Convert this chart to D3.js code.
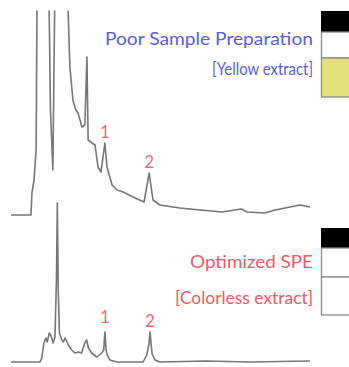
<!DOCTYPE html>
<html><head><meta charset="utf-8">
<script src="https://cdn.jsdelivr.net/npm/d3@7"></script>
<style>html,body{margin:0;padding:0;background:#fff;}svg{display:block;}</style>
</head><body><svg id="c" width="349" height="367"></svg>
<script>
// Retention time (arbitrary units) and detector signal for each chromatogram
const poorTime = [0,0.67,0.70,0.77,0.84,0.88,1.07,1.26,1.32,1.40,1.48,1.71,1.91,1.94,1.97,2.07,2.17,2.24,2.31,2.37,2.47,2.54,2.58,2.71,2.81,2.91,3.01,3.14,3.21,3.38,3.55,3.75,4.15,4.45,4.62,4.75,4.98,5.65,6.32,7.06,7.49,7.70,7.90,8.49,8.83,9.33,9.67,10];
const poorSignal = [0,0,22,35,65,260,400,240,105,45,260,450,204,175,148,115,105,102,95,88,90,158,75,72,70,48,43,72,48,30,25,23,17,13,42,15,10,7,5,3,5,6,3,2,5,8,10,8];
const speTime = [0,0.97,1.03,1.10,1.17,1.21,1.28,1.34,1.41,1.47,1.52,1.55,1.58,1.62,1.70,1.75,1.81,1.92,2.03,2.14,2.25,2.36,2.47,2.53,2.59,2.70,2.87,3.03,3.10,3.14,3.18,3.22,3.31,3.54,4.42,4.54,4.61,4.65,4.69,4.72,4.82,4.98,6.5,8.0,10];
const speSignal = [0,0,4,19,24,20,29,26,19,25,82,159,72,29,22,20,24,17,12,9,10,9,19,22,14,9,5,9,12,30,12,7,2,0,0,7,17,30,17,8,2,0,1,0,1];
const peakLabels = ["1","2"];
const poorPeakTimes = [3.14,4.62];
const spePeakTimes = [3.14,4.65];
const titles = ["Poor Sample Preparation","[Yellow extract]","Optimized SPE","[Colorless extract]"];

const svg = d3.select("#c");
const x = d3.scaleLinear().domain([0,10]).range([11,310]);
const yTop = d3.scaleLinear().domain([0,205]).range([215,10]);
const yBot = d3.scaleLinear().domain([0,205]).range([362,157]);

svg.append("clipPath").attr("id","clipTop").append("rect").attr("x",0).attr("y",10.5).attr("width",349).attr("height",220);

const lineTop = d3.line().x((d,i)=>x(poorTime[i])).y(d=>yTop(d));
const lineBot = d3.line().x((d,i)=>x(speTime[i])).y(d=>yBot(d));

svg.append("path").attr("d",lineTop(poorSignal)).attr("clip-path","url(#clipTop)")
  .attr("fill","none").attr("stroke","#767676").attr("stroke-width",1.6).attr("stroke-linejoin","round");
svg.append("path").attr("d",lineBot(speSignal))
  .attr("fill","none").attr("stroke","#767676").attr("stroke-width",1.6).attr("stroke-linejoin","round");

// peak labels
const lab = "#ef6a78";
peakLabels.forEach((l,i)=>{
  const tt = poorPeakTimes[i];
  const pv = d3.max(poorTime.map((t,j)=>Math.abs(t-tt)<0.02?poorSignal[j]:0));
  svg.append("text").attr("x",x(tt)).attr("y",yTop(pv)-5).attr("text-anchor","middle")
    .attr("font-family","Lato").attr("font-size",17).attr("fill",lab).text(l);
  const ts = spePeakTimes[i];
  const sv = d3.max(speTime.map((t,j)=>Math.abs(t-ts)<0.02?speSignal[j]:0));
  svg.append("text").attr("x",x(ts)).attr("y",yBot(sv)-(i?5:9)).attr("text-anchor","middle")
    .attr("font-family","Lato").attr("font-size",17).attr("fill",lab).text(l);
});

// titles
const tcfg = [
  {y:45, len:208, fill:"#5a5ae6"},
  {y:75, len:101, fill:"#5a5ae6"},
  {y:268, len:123, fill:"#ef5a66"},
  {y:304, len:138, fill:"#ef5a66"}
];
titles.forEach((t,i)=>{
  svg.append("text").attr("x",313).attr("y",tcfg[i].y).attr("text-anchor","end")
    .attr("font-family","Lato").attr("font-size",18).attr("fill",tcfg[i].fill)
    .attr("textLength",tcfg[i].len).attr("lengthAdjust","spacingAndGlyphs").text(t);
});

// legend swatches
const g1 = svg.append("g");
g1.append("rect").attr("x",321).attr("y",11).attr("width",30).attr("height",21).attr("fill","#000");
g1.append("rect").attr("x",321.5).attr("y",32).attr("width",30).attr("height",26).attr("fill","#fff").attr("stroke","#8a8a8a").attr("stroke-width",1.3);
g1.append("rect").attr("x",321.5).attr("y",58).attr("width",30).attr("height",39).attr("fill","#e6e07c").attr("stroke","#8a8a8a").attr("stroke-width",1.3);
const g2 = svg.append("g");
g2.append("rect").attr("x",321).attr("y",228).attr("width",30).attr("height",20).attr("fill","#000");
g2.append("rect").attr("x",321.5).attr("y",248).attr("width",30).attr("height",29).attr("fill","#fff").attr("stroke","#8a8a8a").attr("stroke-width",1.3);
g2.append("rect").attr("x",321.5).attr("y",277).attr("width",30).attr("height",38).attr("fill","#fff").attr("stroke","#8a8a8a").attr("stroke-width",1.3);
</script></body></html>
